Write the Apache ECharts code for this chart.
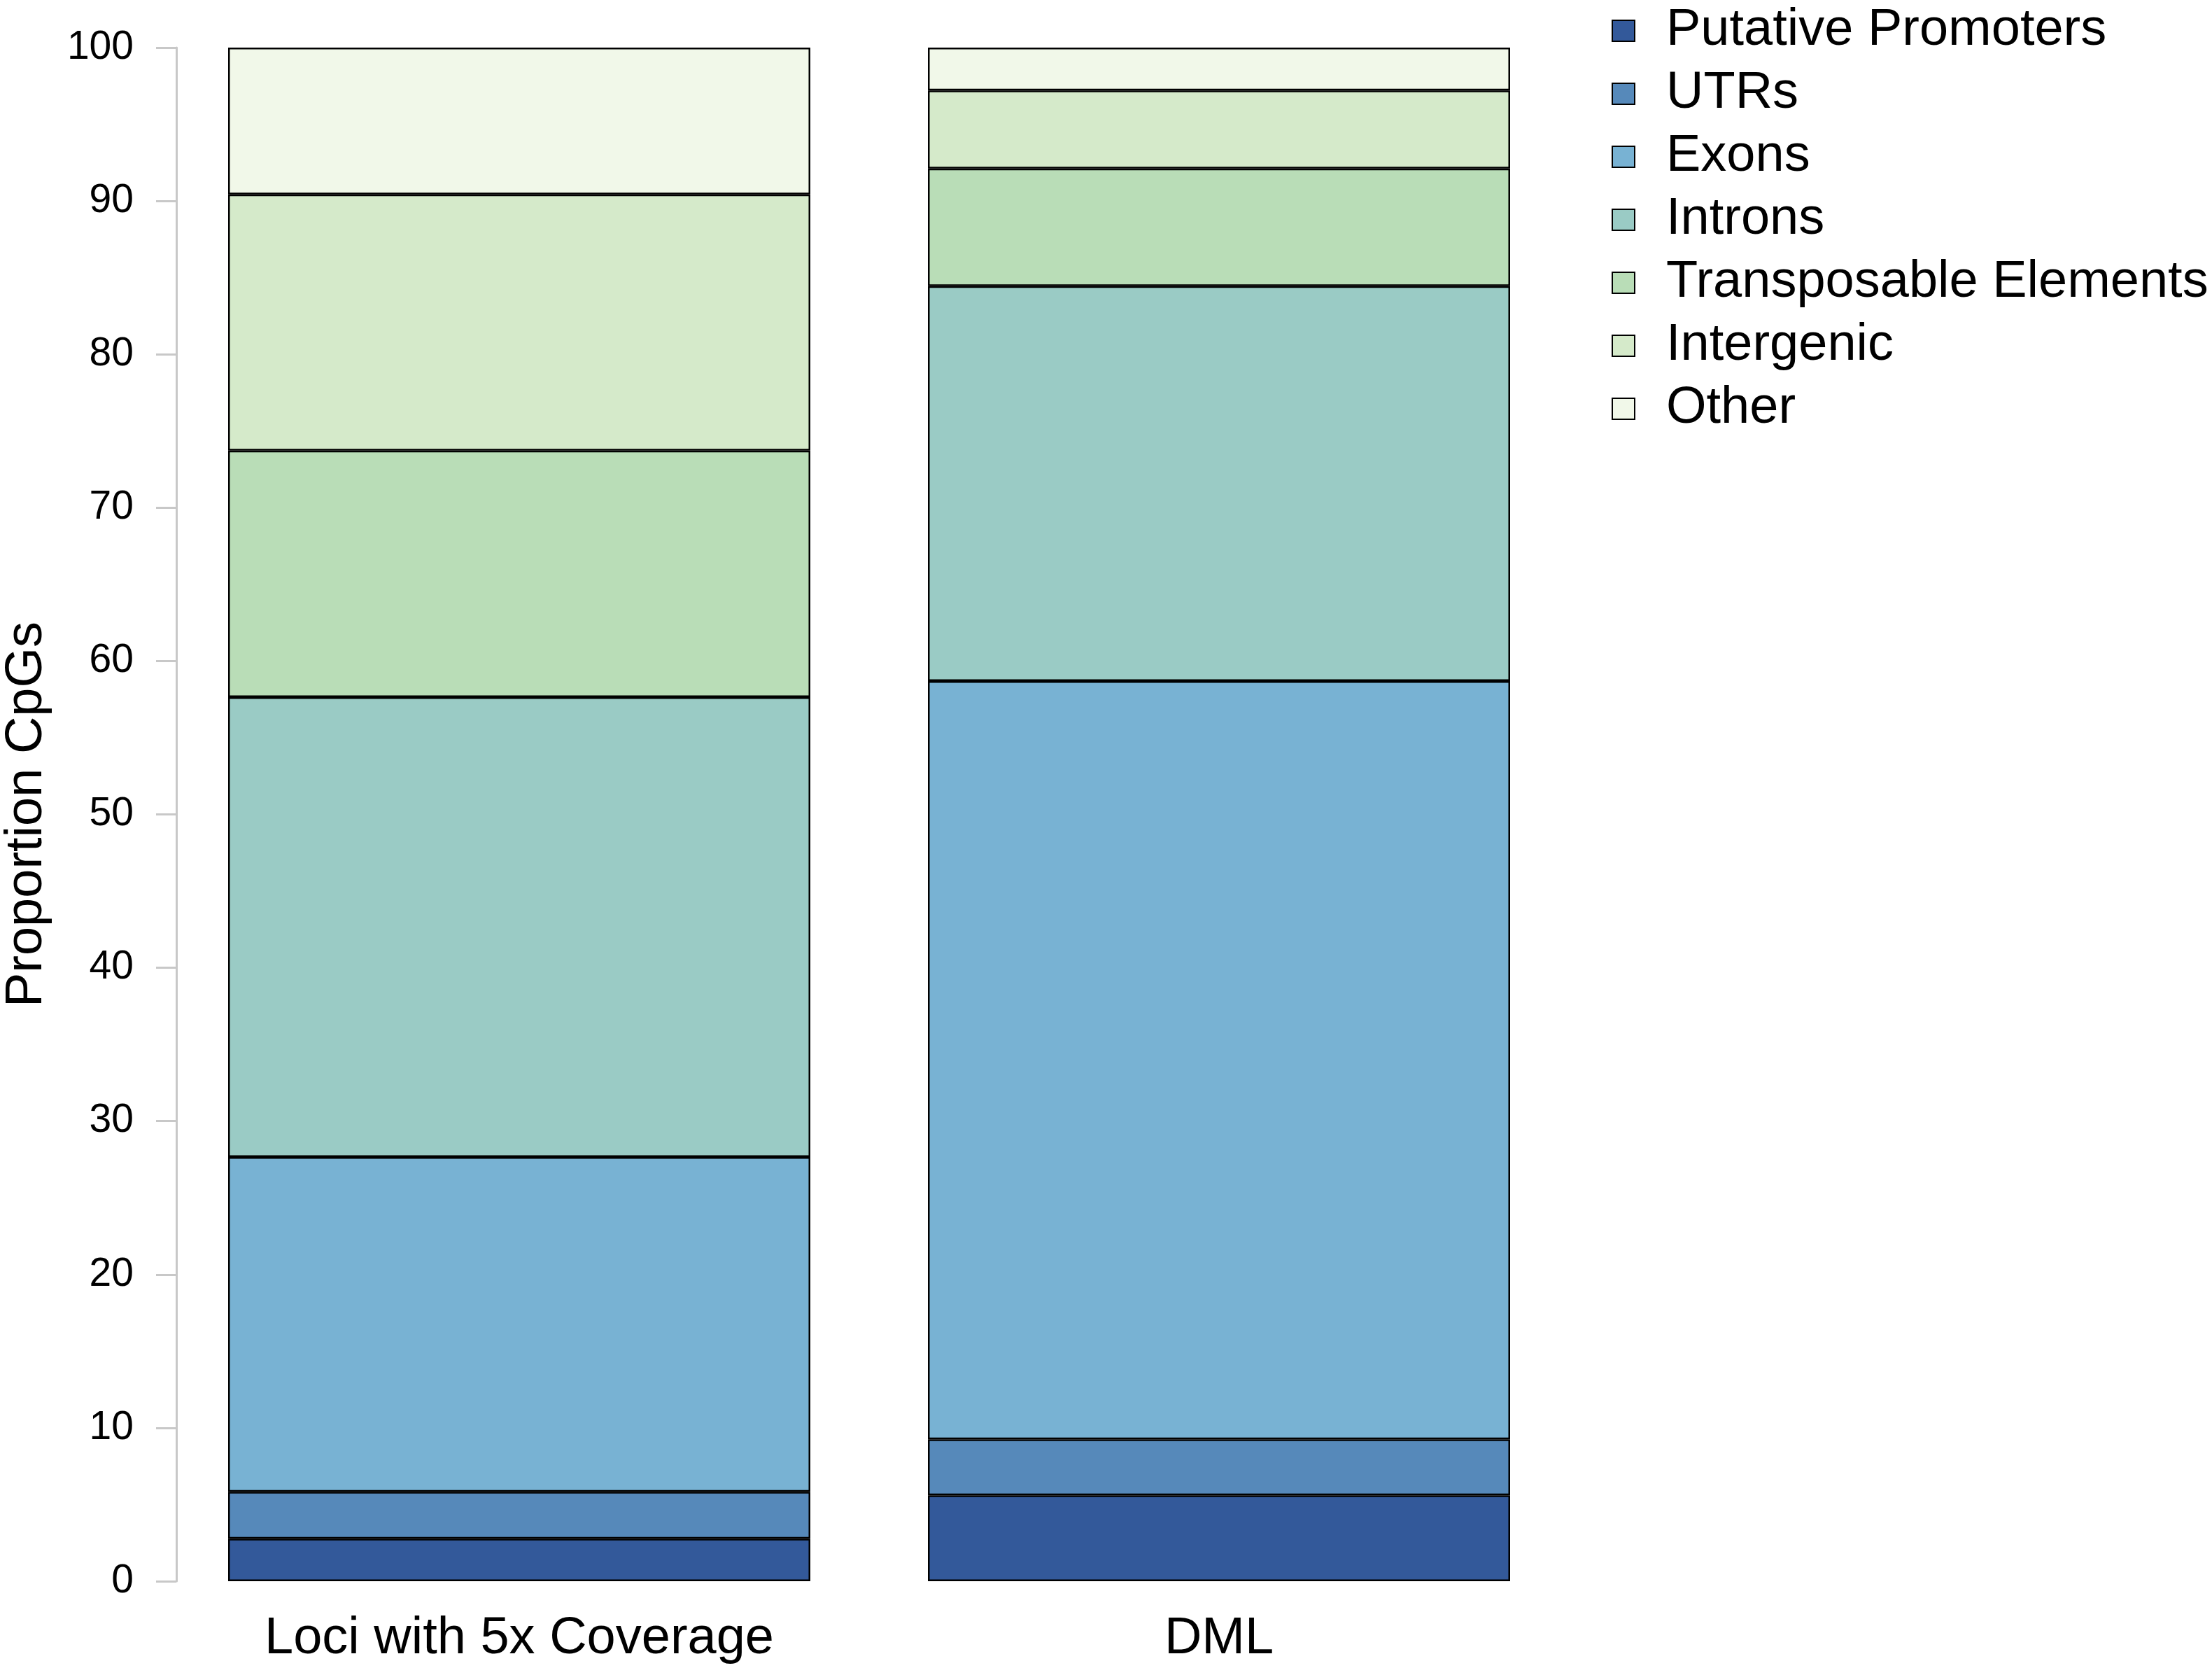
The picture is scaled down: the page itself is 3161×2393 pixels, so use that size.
<!DOCTYPE html>
<html>
<head>
<meta charset="utf-8">
<script src="https://cdn.jsdelivr.net/npm/echarts@6/dist/echarts.min.js"></script>
<style>
  html, body { margin: 0; padding: 0; background: #fff; }
  #chart { width: 3161px; height: 2393px; }
</style>
</head>
<body>
<div id="chart"></div>
<script>
// stacked proportions of CpGs per genomic feature
const categories = ['Loci with 5x Coverage', 'DML'];
const featureNames = ['Putative Promoters', 'UTRs', 'Exons', 'Introns', 'Transposable Elements', 'Intergenic', 'Other'];
const featureColors = ['#33599a', '#5689ba', '#78b2d3', '#9acbc5', '#b9ddb7', '#d5eaca', '#f1f8e9'];

const promoters = [2.77, 5.60];
const utrs = [3.06, 3.65];
const exons = [21.83, 49.44];
const introns = [29.99, 25.76];
const transposable = [16.07, 7.67];
const intergenic = [16.71, 5.08];
const other = [9.57, 2.80];

const yTicks = [0, 10, 20, 30, 40, 50, 60, 70, 80, 90, 100];

const seriesValues = [promoters, utrs, exons, introns, transposable, intergenic, other];
const font = 'Liberation Sans';

var chart = echarts.init(document.getElementById('chart'));

const option = {
    backgroundColor: '#ffffff',
    animation: false,
    textStyle: { fontFamily: font, color: '#000' },
    grid: {
        left: 242,
        width: 2000,
        top: 68,
        bottom: 134,
        outerBoundsMode: 'none',
        containLabel: false
    },
    legend: {
        orient: 'vertical',
        left: 2298,
        top: 2,
        itemWidth: 32,
        itemHeight: 30,
        itemGap: 16,
        icon: 'rect',
        data: featureNames,
        textStyle: { fontFamily: font, fontSize: 74, color: '#000', padding: [0, 0, 0, 40] }
    },
    xAxis: {
        type: 'category',
        data: categories,
        axisLine: { show: false },
        axisTick: { show: false },
        axisLabel: { fontFamily: font, fontSize: 74, color: '#000', margin: 46 }
    },
    yAxis: {
        type: 'value',
        min: 0,
        max: 100,
        interval: 10,
        offset: -10,
        name: 'Proportion CpGs',
        nameLocation: 'middle',
        nameGap: 176,
        nameTextStyle: { fontFamily: font, fontSize: 74, color: '#000' },
        splitLine: { show: false },
        axisLine: { show: true, lineStyle: { color: '#c8c8c8', width: 3 } },
        axisTick: { show: true, length: 29, lineStyle: { color: '#c8c8c8', width: 3 } },
        axisLabel: {
            fontFamily: font, fontSize: 57, color: '#000', margin: 61,
            formatter: function (v) { return yTicks.indexOf(v) >= 0 ? String(v) : ''; }
        }
    },
    series: featureNames.map(function (name, i) {
        return {
            name: name,
            type: 'bar',
            stack: 'total',
            barWidth: 832,
            data: seriesValues[i],
            itemStyle: {
                color: featureColors[i],
                borderColor: '#000',
                borderWidth: 2.5
            }
        };
    })
};

chart.setOption(option);
</script>
</body>
</html>
